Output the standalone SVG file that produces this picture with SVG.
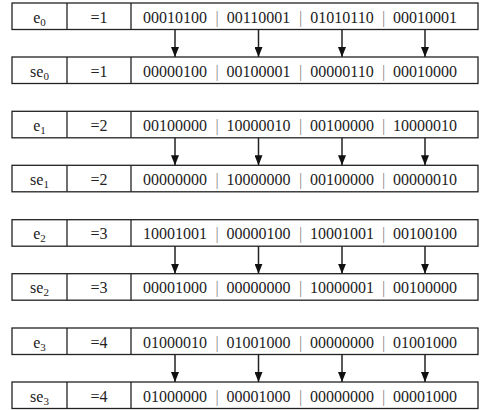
<svg xmlns="http://www.w3.org/2000/svg" width="481" height="410" viewBox="0 0 481 410" font-family="'Liberation Serif', 'Times New Roman', serif">
<style>
.box{fill:#fff;stroke:#222;stroke-width:1.3}
.t{font-family:'Liberation Serif','Times New Roman',serif;font-size:16px;fill:#222;text-anchor:middle}
.p{fill:#888}
.sub{font-size:11px}
.ar{stroke:#222;stroke-width:1.5;fill:none}
</style>
<defs>
<marker id="ah" viewBox="0 0 10 8" refX="10" refY="4" markerWidth="10" markerHeight="8" markerUnits="userSpaceOnUse" orient="auto">
<path d="M0,0 L10,4 L0,8 Z" fill="#111"/>
</marker>
<g id="rowtpl">
<rect class="box" x="12" y="0" width="466" height="26.5"/>
<line class="box" x1="67" y1="0" x2="67" y2="26.5"/>
<line class="box" x1="131" y1="0" x2="131" y2="26.5"/>
</g>
</defs>

<g id="e0" transform="translate(0,3)">
<use href="#rowtpl"/>
<text class="t" x="39.5" y="19.5">e<tspan class="sub" dy="3">0</tspan></text>
<text class="t" x="99" y="19.5">=1</text>
<text class="t" y="19.5"><tspan x="175">00010100</tspan><tspan class="p" x="217">|</tspan><tspan x="258.5">00110001</tspan><tspan class="p" x="300.5">|</tspan><tspan x="342">01010110</tspan><tspan class="p" x="383.5">|</tspan><tspan x="425">00010001</tspan></text>
</g>
<g id="se0" transform="translate(0,57)">
<use href="#rowtpl"/>
<text class="t" x="39.5" y="19.5">se<tspan class="sub" dy="3">0</tspan></text>
<text class="t" x="99" y="19.5">=1</text>
<text class="t" y="19.5"><tspan x="175">00000100</tspan><tspan class="p" x="217">|</tspan><tspan x="258.5">00100001</tspan><tspan class="p" x="300.5">|</tspan><tspan x="342">00000110</tspan><tspan class="p" x="383.5">|</tspan><tspan x="425">00010000</tspan></text>
</g>

<g id="e1" transform="translate(0,111.3)">
<use href="#rowtpl"/>
<text class="t" x="39.5" y="19.5">e<tspan class="sub" dy="3">1</tspan></text>
<text class="t" x="99" y="19.5">=2</text>
<text class="t" y="19.5"><tspan x="175">00100000</tspan><tspan class="p" x="217">|</tspan><tspan x="258.5">10000010</tspan><tspan class="p" x="300.5">|</tspan><tspan x="342">00100000</tspan><tspan class="p" x="383.5">|</tspan><tspan x="425">10000010</tspan></text>
</g>
<g id="se1" transform="translate(0,165.3)">
<use href="#rowtpl"/>
<text class="t" x="39.5" y="19.5">se<tspan class="sub" dy="3">1</tspan></text>
<text class="t" x="99" y="19.5">=2</text>
<text class="t" y="19.5"><tspan x="175">00000000</tspan><tspan class="p" x="217">|</tspan><tspan x="258.5">10000000</tspan><tspan class="p" x="300.5">|</tspan><tspan x="342">00100000</tspan><tspan class="p" x="383.5">|</tspan><tspan x="425">00000010</tspan></text>
</g>

<g id="e2" transform="translate(0,219.7)">
<use href="#rowtpl"/>
<text class="t" x="39.5" y="19.5">e<tspan class="sub" dy="3">2</tspan></text>
<text class="t" x="99" y="19.5">=3</text>
<text class="t" y="19.5"><tspan x="175">10001001</tspan><tspan class="p" x="217">|</tspan><tspan x="258.5">00000100</tspan><tspan class="p" x="300.5">|</tspan><tspan x="342">10001001</tspan><tspan class="p" x="383.5">|</tspan><tspan x="425">00100100</tspan></text>
</g>
<g id="se2" transform="translate(0,273.7)">
<use href="#rowtpl"/>
<text class="t" x="39.5" y="19.5">se<tspan class="sub" dy="3">2</tspan></text>
<text class="t" x="99" y="19.5">=3</text>
<text class="t" y="19.5"><tspan x="175">00001000</tspan><tspan class="p" x="217">|</tspan><tspan x="258.5">00000000</tspan><tspan class="p" x="300.5">|</tspan><tspan x="342">10000001</tspan><tspan class="p" x="383.5">|</tspan><tspan x="425">00100000</tspan></text>
</g>

<g id="e3" transform="translate(0,328)">
<use href="#rowtpl"/>
<text class="t" x="39.5" y="19.5">e<tspan class="sub" dy="3">3</tspan></text>
<text class="t" x="99" y="19.5">=4</text>
<text class="t" y="19.5"><tspan x="175">01000010</tspan><tspan class="p" x="217">|</tspan><tspan x="258.5">01001000</tspan><tspan class="p" x="300.5">|</tspan><tspan x="342">00000000</tspan><tspan class="p" x="383.5">|</tspan><tspan x="425">01001000</tspan></text>
</g>
<g id="se3" transform="translate(0,382)">
<use href="#rowtpl"/>
<text class="t" x="39.5" y="19.5">se<tspan class="sub" dy="3">3</tspan></text>
<text class="t" x="99" y="19.5">=4</text>
<text class="t" y="19.5"><tspan x="175">01000000</tspan><tspan class="p" x="217">|</tspan><tspan x="258.5">00001000</tspan><tspan class="p" x="300.5">|</tspan><tspan x="342">00000000</tspan><tspan class="p" x="383.5">|</tspan><tspan x="425">00001000</tspan></text>
</g>

<g id="connectors">
<line class="ar" marker-end="url(#ah)" x1="175" y1="29.5" x2="175" y2="57"/>
<line class="ar" marker-end="url(#ah)" x1="258.5" y1="29.5" x2="258.5" y2="57"/>
<line class="ar" marker-end="url(#ah)" x1="342" y1="29.5" x2="342" y2="57"/>
<line class="ar" marker-end="url(#ah)" x1="425" y1="29.5" x2="425" y2="57"/>
<line class="ar" marker-end="url(#ah)" x1="175" y1="137.8" x2="175" y2="165.3"/>
<line class="ar" marker-end="url(#ah)" x1="258.5" y1="137.8" x2="258.5" y2="165.3"/>
<line class="ar" marker-end="url(#ah)" x1="342" y1="137.8" x2="342" y2="165.3"/>
<line class="ar" marker-end="url(#ah)" x1="425" y1="137.8" x2="425" y2="165.3"/>
<line class="ar" marker-end="url(#ah)" x1="175" y1="246.2" x2="175" y2="273.7"/>
<line class="ar" marker-end="url(#ah)" x1="258.5" y1="246.2" x2="258.5" y2="273.7"/>
<line class="ar" marker-end="url(#ah)" x1="342" y1="246.2" x2="342" y2="273.7"/>
<line class="ar" marker-end="url(#ah)" x1="425" y1="246.2" x2="425" y2="273.7"/>
<line class="ar" marker-end="url(#ah)" x1="175" y1="354.5" x2="175" y2="382"/>
<line class="ar" marker-end="url(#ah)" x1="258.5" y1="354.5" x2="258.5" y2="382"/>
<line class="ar" marker-end="url(#ah)" x1="342" y1="354.5" x2="342" y2="382"/>
<line class="ar" marker-end="url(#ah)" x1="425" y1="354.5" x2="425" y2="382"/>
</g>
</svg>
